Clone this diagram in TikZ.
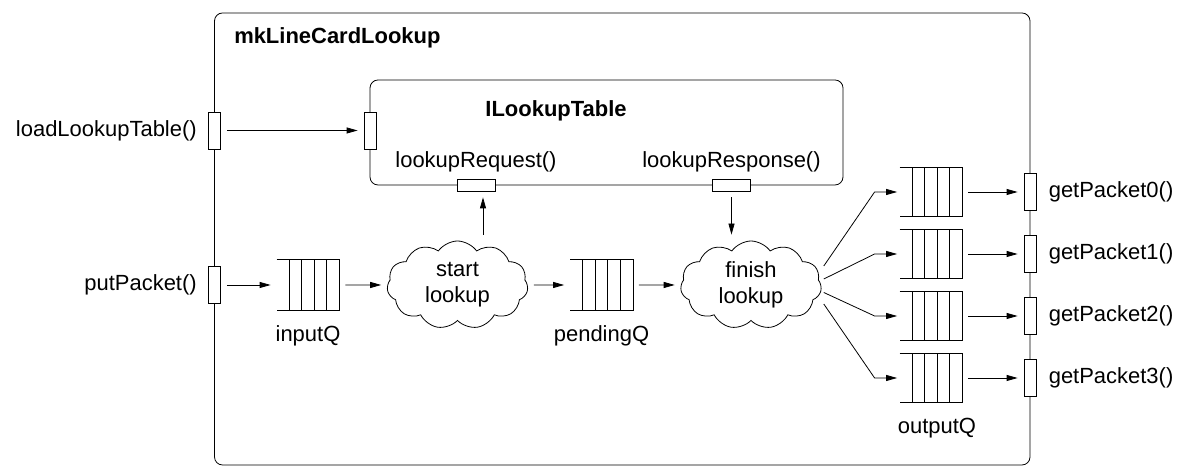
\documentclass[tikz,border=0pt]{standalone}
\usepackage{fontspec}
\setmainfont{Liberation Sans}
\usetikzlibrary{shapes,positioning,arrows.meta,calc}

\newcommand{\dfont}{\fontsize{12.5}{15}\selectfont}
\tikzset{
  port/.style={draw, fill=white, inner sep=0pt, minimum width=0.24cm, minimum height=0.74cm},
  hport/.style={port, minimum width=0.76cm, minimum height=0.24cm},
  queue/.style={inner sep=0pt, minimum width=1.24cm, minimum height=1cm},
  cloudbox/.style={cloud, draw, cloud puffs=11, cloud puff arc=110, aspect=1.6,
    inner sep=0pt, minimum width=2.82cm, minimum height=1.76cm, align=center},
  flow/.style={-{Triangle[length=2.2mm,width=1.2mm]}, shorten <=1.2mm, shorten >=1.2mm},
  lbl/.style={inner sep=0pt},
  title/.style={font=\dfont\bfseries},
}

% open-ended FIFO drawn over an empty node
\newcommand{\drawqueue}[1]{%
  \draw (#1.north west) -- (#1.north east) -- (#1.south east) -- (#1.south west);
  \foreach \fr in {0.2,0.4,0.6,0.8}
    \draw ($(#1.north west)!\fr!(#1.north east)$) -- ($(#1.south west)!\fr!(#1.south east)$);
}

\begin{document}
\begin{tikzpicture}[line width=0.45pt, every node/.style={font=\dfont}]
  \useasboundingbox (0,0) rectangle (23.54,9.36);

  % module and interface boxes
  \draw[rounded corners=1.6mm] (4.29,0.06) rectangle (20.6,9.1);
  \node[title, anchor=west] at (4.56,8.6) {mkLineCardLookup};
  \draw[rounded corners=1.6mm] (7.4,5.66) rectangle (16.86,7.76);
  \node[title] at (11.12,7.14) {ILookupTable};
  \node at (9.52,6.13) {lookupRequest()};
  \node at (14.63,6.13) {lookupResponse()};

  % ports
  \node[port] (loadPort) at (4.29,6.75) {};
  \node[port] (tablePort) at (7.4,6.75) {};
  \node[port] (putPort) at (4.29,3.66) {};
  \node[hport] (reqPort) at (9.52,5.66) {};
  \node[hport] (respPort) at (14.63,5.66) {};
  \node[lbl, left=0.22cm of loadPort] {loadLookupTable()};
  \node[lbl, left=0.22cm of putPort] {putPacket()};

  % input side
  \node[queue] (inputQ) at (6.16,3.66) {};
  \node[queue] (pendingQ) at (12.03,3.66) {};
  \drawqueue{inputQ}
  \drawqueue{pendingQ}
  \node[lbl, below=0.3cm of inputQ] {inputQ};
  \node[lbl, below=0.3cm of pendingQ] {pendingQ};
  \node[cloudbox] (start) at (9.15,3.66) {start\\lookup};
  \node[cloudbox] (finish) at (15.02,3.66) {finish\\lookup};

  \draw[flow] (loadPort) -- (tablePort);
  \draw[flow] (putPort) -- (inputQ);
  \draw[flow] (inputQ) -- (start);
  \draw[flow] (start) -- (pendingQ);
  \draw[flow] (pendingQ) -- (finish);
  \draw[flow] ([xshift=1.4mm]reqPort.south |- start.north) -- ([xshift=1.4mm]reqPort.south);
  \draw[flow] (respPort.south) -- (respPort.south |- finish.north);

  % output side
  \foreach \i/\y in {0/5.52,1/4.28,2/3.04,3/1.80} {
    \node[queue, minimum height=0.98cm] (outQ\i) at (18.62,\y) {};
    \drawqueue{outQ\i}
    \node[port] (getPort\i) at (20.6,\y) {};
    \node[lbl, right=0.24cm of getPort\i] {getPacket\i()};
    \draw[flow] (outQ\i) -- (getPort\i);
  }
  \node[lbl, below=0.3cm of outQ3, xshift=1.2mm] {outputQ};

  \foreach \i/\dy in {0/3.8,1/1.2,2/-1.5,3/-3.8}
    \draw[flow, shorten <=0pt, shorten >=0.5mm] ([xshift=0.5mm,yshift=\dy mm]finish.east)
      -- ([xshift=-5mm]outQ\i.west) -- (outQ\i.west);
\end{tikzpicture}
\end{document}
